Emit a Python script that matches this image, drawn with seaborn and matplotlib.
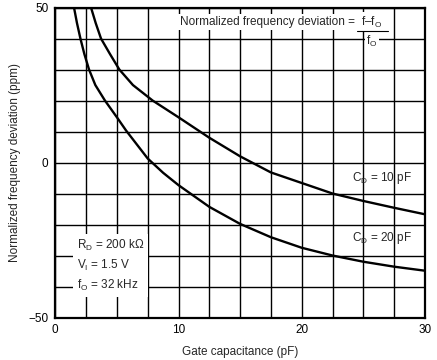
import matplotlib
matplotlib.use("Agg")
import matplotlib.pyplot as plt
import matplotlib.ticker as mticker
import pandas as pd
import seaborn as sns

# values
cap_10 = [2.9, 3.28, 3.71, 4.44, 5.2, 6.3, 7.9, 10.0, 12.5, 15.0, 17.5, 20.0, 22.5, 25.0, 27.5, 30.0]
dev_10 = [50, 45, 40, 35, 30, 25, 20, 14.6, 8.0, 2.0, -3.2, -6.6, -10.0, -12.4, -14.6, -16.7]

cap_20 = [1.52, 1.76, 2.04, 2.36, 2.74, 3.25, 4.03, 5.0, 5.75, 7.5, 8.75, 10.0, 12.5, 15.0,
          17.5, 20.0, 22.5, 25.0, 27.5, 30.0]
dev_20 = [50, 45, 40, 35, 30, 25, 20, 14.6, 10.3, 1.3, -3.3, -7.3, -14.3, -19.8,
          -24.1, -27.5, -30.0, -32.0, -33.6, -34.9]

x_ticks = [0, 10, 20, 30]
y_ticks = [-50, 0, 50]


def main() -> None:
    sns.set_style("white")
    plt.rcParams["font.family"] = ["Liberation Sans", "DejaVu Sans"]
    plt.rcParams["mathtext.fontset"] = "custom"
    plt.rcParams["mathtext.rm"] = "Liberation Sans"

    df = pd.concat([
        pd.DataFrame({"cap": cap_10, "dev": dev_10, "curve": "CD = 10 pF"}),
        pd.DataFrame({"cap": cap_20, "dev": dev_20, "curve": "CD = 20 pF"}),
    ])

    fig = plt.figure(figsize=(4.37, 3.6), dpi=100)
    ax = fig.add_axes([0.1265, 0.118, 0.846, 0.861])

    sns.lineplot(data=df, x="cap", y="dev", units="curve", estimator=None,
                 color="black", linewidth=1.7, ax=ax, sort=False, zorder=3)

    ax.set_xlim(0, 30)
    ax.set_ylim(-50, 50)
    ax.set_xticks(x_ticks)
    ax.set_yticks(y_ticks)
    ax.set_yticklabels(["\u221250" if t < 0 else str(t) for t in y_ticks])
    ax.xaxis.set_minor_locator(mticker.MultipleLocator(2.5))
    ax.yaxis.set_minor_locator(mticker.MultipleLocator(10))
    ax.grid(True, which="both", color="black", linewidth=1.0)
    ax.set_axisbelow(True)
    ax.tick_params(which="both", length=0, labelsize=8.5, pad=5, colors="black")
    for sp in ax.spines.values():
        sp.set_color("black")
        sp.set_linewidth(1.6)

    ax.set_xlabel("Gate capacitance (pF)", fontsize=8.5, labelpad=7)
    ax.set_ylabel("Normalized frequency deviation (ppm)", fontsize=8.5, labelpad=5)

    box = dict(facecolor="white", edgecolor="none", pad=1.5)
    fs = 8.5
    sub = "$_\\mathregular{%s}$"
    ax.text(10.1, 45.3, "Normalized frequency deviation =", fontsize=fs,
            ha="left", va="center", bbox=box, zorder=4)
    ax.text(25.7, 45.3, "f\u2013f" + sub % "O", fontsize=fs,
            ha="center", va="center", bbox=box, zorder=4)
    ax.plot([24.5, 27.0], [42.3, 42.3], color="black", linewidth=0.8, zorder=5)
    ax.text(25.7, 39.0, "f" + sub % "O", fontsize=fs,
            ha="center", va="center", bbox=dict(facecolor="white", edgecolor="none", pad=1), zorder=4)

    ax.text(26.5, -5.1, "C" + sub % "D" + " = 10 pF", fontsize=fs, ha="center", va="center", zorder=4)
    ax.text(26.5, -24.5, "C" + sub % "D" + " = 20 pF", fontsize=fs, ha="center", va="center", zorder=4)

    ax.text(1.75, -33.2,
            "R" + sub % "D" + " = 200 k\u03a9\nV" + sub % "I" + " = 1.5 V\nf" + sub % "O" + " = 32 kHz",
            fontsize=fs, ha="left", va="center", linespacing=1.45,
            bbox=dict(facecolor="white", edgecolor="none", pad=3), zorder=4)

    fig.savefig("out.png", dpi=100)
    plt.close(fig)


if __name__ == "__main__":
    main()
